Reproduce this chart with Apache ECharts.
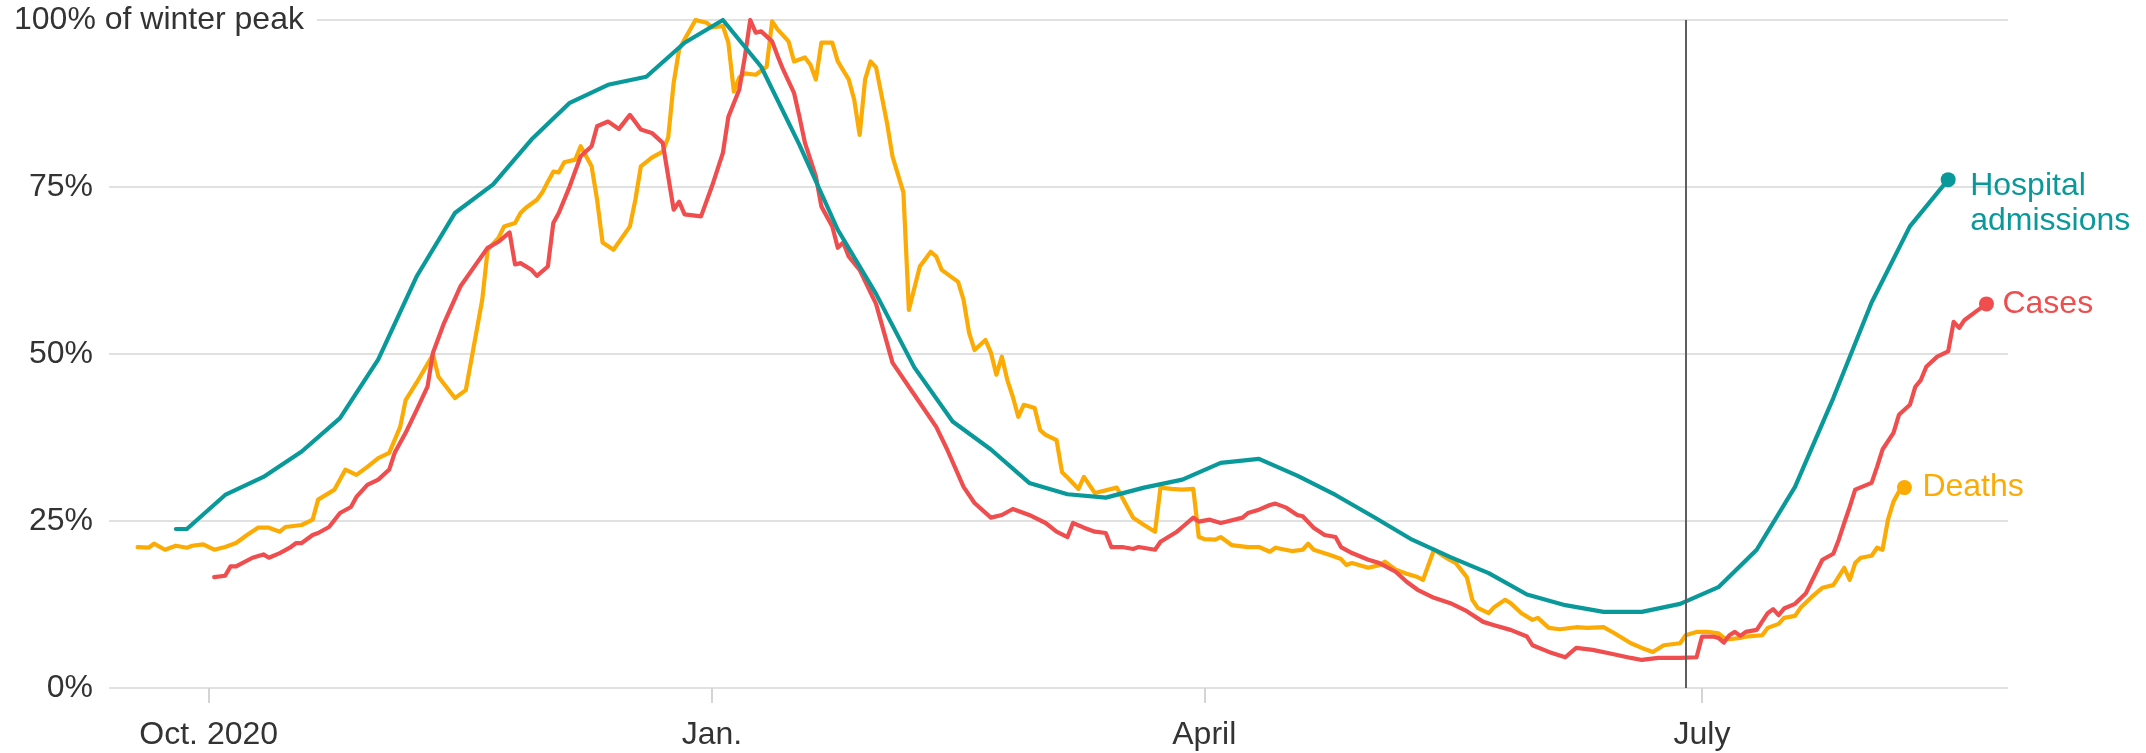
<!DOCTYPE html>
<html><head><meta charset="utf-8">
<script src="https://cdn.jsdelivr.net/npm/echarts@6/dist/echarts.min.js"></script>
<style>html,body{margin:0;padding:0;background:#fff}#chart{width:2146px;height:753px}</style>
</head><body><div id="chart"></div>
<script>
// ---- tick labels ----
const xTickDates = ['2020-10-01', '2021-01-01', '2021-04-01', '2021-07-01'];
const xTickLabels = ['Oct. 2020', 'Jan.', 'April', 'July'];
const yTickValues = [0, 25, 50, 75, 100];
const yTickLabels = ['0%', '25%', '50%', '75%', '100% of winter peak'];
const axisStart = '2020-09-12 18:30';
const axisEnd = '2021-08-25 22:30';
const markerDate = '2021-06-28';

// ---- series: % of winter peak ----
const hospital = [
['2020-09-25',23.8],['2020-09-27',23.8],['2020-10-04',28.9],['2020-10-11',31.6],['2020-10-18',35.4],
['2020-10-25',40.4],['2020-11-01',49.2],['2020-11-08',61.6],['2020-11-15',71.1],['2020-11-22',75.4],
['2020-11-29',82.1],['2020-12-06',87.6],['2020-12-13',90.3],['2020-12-20',91.5],['2020-12-27',96.6],
['2021-01-03',100],['2021-01-10',93.0],['2021-01-17',81.3],['2021-01-24',68.6],['2021-01-31',59.0],
['2021-02-07',48.0],['2021-02-14',39.9],['2021-02-21',35.7],['2021-02-28',30.7],['2021-03-07',29.0],
['2021-03-14',28.5],['2021-03-21',30.0],['2021-03-28',31.2],['2021-04-04',33.7],['2021-04-11',34.3],
['2021-04-18',31.8],['2021-04-25',28.9],['2021-05-02',25.6],['2021-05-09',22.2],['2021-05-16',19.6],
['2021-05-23',17.2],['2021-05-30',14.0],['2021-06-06',12.4],['2021-06-13',11.4],['2021-06-20',11.4],
['2021-06-27',12.6],['2021-07-04',15.1],['2021-07-11',20.7],['2021-07-18',30.1],['2021-07-25',43.4],
['2021-08-01',57.7],['2021-08-08',69.1],['2021-08-15',76.1]
];

const cases = [
['2020-10-02',16.6],['2020-10-04',16.8],['2020-10-05',18.2],['2020-10-06',18.2],['2020-10-09',19.5],
['2020-10-11',20.0],['2020-10-12',19.5],['2020-10-14',20.2],['2020-10-16',21.1],['2020-10-17',21.7],
['2020-10-18',21.7],['2020-10-20',22.9],['2020-10-21',23.2],['2020-10-23',24.1],['2020-10-25',26.2],
['2020-10-27',27.1],['2020-10-28',28.6],['2020-10-30',30.4],['2020-11-01',31.2],['2020-11-03',32.7],
['2020-11-04',35.2],['2020-11-06',38.2],['2020-11-08',41.6],['2020-11-10',45.1],['2020-11-11',50.2],
['2020-11-13',54.6],['2020-11-16',60.1],['2020-11-19',63.6],['2020-11-21',65.9],['2020-11-23',66.8],
['2020-11-25',68.2],['2020-11-26',63.4],['2020-11-27',63.6],['2020-11-29',62.6],['2020-11-30',61.7],
['2020-12-02',63.1],['2020-12-03',69.6],['2020-12-04',71.1],['2020-12-06',75.1],['2020-12-08',79.6],
['2020-12-10',81.1],['2020-12-11',84.1],['2020-12-13',84.8],['2020-12-15',83.7],['2020-12-17',85.8],
['2020-12-19',83.6],['2020-12-21',83.1],['2020-12-23',81.6],['2020-12-25',71.6],['2020-12-26',72.8],
['2020-12-27',70.9],['2020-12-30',70.6],['2021-01-01',75.1],['2021-01-03',80.1],['2021-01-04',85.5],
['2021-01-06',89.6],['2021-01-07',94.4],['2021-01-08',100],['2021-01-09',98.1],['2021-01-10',98.3],
['2021-01-12',96.8],['2021-01-13',94.6],['2021-01-14',92.6],['2021-01-16',89.1],['2021-01-17',85.5],
['2021-01-18',81.6],['2021-01-20',76.6],['2021-01-21',72.1],['2021-01-23',69.1],['2021-01-24',65.9],
['2021-01-25',66.7],['2021-01-26',64.6],['2021-01-28',62.6],['2021-01-30',59.2],['2021-01-31',57.5],
['2021-02-03',48.7],['2021-02-06',45.1],['2021-02-08',42.7],['2021-02-11',39.1],['2021-02-13',35.7],
['2021-02-16',30.1],['2021-02-18',27.7],['2021-02-21',25.5],['2021-02-23',25.9],['2021-02-25',26.8],
['2021-02-28',25.9],['2021-03-03',24.7],['2021-03-05',23.4],['2021-03-07',22.6],['2021-03-08',24.7],
['2021-03-10',24.0],['2021-03-12',23.4],['2021-03-14',23.2],['2021-03-15',21.1],['2021-03-17',21.1],
['2021-03-19',20.8],['2021-03-20',21.1],['2021-03-23',20.7],['2021-03-24',21.9],['2021-03-27',23.4],
['2021-03-28',24.1],['2021-03-30',25.5],['2021-03-31',24.9],['2021-04-02',25.2],['2021-04-04',24.7],
['2021-04-05',24.9],['2021-04-08',25.5],['2021-04-09',26.2],['2021-04-11',26.7],['2021-04-13',27.4],
['2021-04-14',27.6],['2021-04-16',27.0],['2021-04-18',25.9],['2021-04-19',25.7],['2021-04-21',24.0],
['2021-04-23',22.9],['2021-04-25',22.6],['2021-04-26',21.1],['2021-04-28',20.2],['2021-05-01',19.2],
['2021-05-03',18.7],['2021-05-06',17.4],['2021-05-08',15.9],['2021-05-10',14.7],['2021-05-13',13.5],
['2021-05-16',12.7],['2021-05-19',11.5],['2021-05-22',9.9],['2021-05-24',9.4],['2021-05-27',8.7],
['2021-05-30',7.7],['2021-05-31',6.4],['2021-06-03',5.4],['2021-06-06',4.6],['2021-06-08',6.0],
['2021-06-11',5.7],['2021-06-14',5.2],['2021-06-18',4.5],['2021-06-20',4.2],['2021-06-23',4.5],
['2021-06-27',4.5],['2021-06-30',4.6],['2021-07-01',7.7],['2021-07-03',7.7],['2021-07-04',7.5],
['2021-07-05',6.8],['2021-07-06',7.9],['2021-07-07',8.4],['2021-07-08',7.8],['2021-07-09',8.4],
['2021-07-11',8.7],['2021-07-13',11.2],['2021-07-14',11.8],['2021-07-15',10.9],['2021-07-16',11.9],
['2021-07-18',12.6],['2021-07-20',14.2],['2021-07-21',15.9],['2021-07-23',19.2],['2021-07-25',20.1],
['2021-07-26',22.2],['2021-07-27',24.7],['2021-07-28',27.1],['2021-07-29',29.7],['2021-08-01',30.7],
['2021-08-02',33.1],['2021-08-03',35.7],['2021-08-05',38.2],['2021-08-06',40.9],['2021-08-08',42.4],
['2021-08-09',45.1],['2021-08-10',46.1],['2021-08-11',48.1],['2021-08-13',49.6],['2021-08-15',50.4],
['2021-08-16',54.8],['2021-08-17',53.9],['2021-08-18',55.1],['2021-08-20',56.3],['2021-08-22',57.5]
];

const deaths = [
['2020-09-18',21.1],['2020-09-20',21.0],['2020-09-21',21.6],['2020-09-23',20.7],['2020-09-25',21.3],
['2020-09-27',21.0],['2020-09-28',21.3],['2020-09-30',21.5],['2020-10-02',20.7],['2020-10-04',21.1],
['2020-10-06',21.7],['2020-10-08',22.9],['2020-10-10',24.0],['2020-10-12',24.0],['2020-10-14',23.4],
['2020-10-15',24.1],['2020-10-18',24.4],['2020-10-20',25.2],['2020-10-21',28.2],['2020-10-24',29.7],
['2020-10-26',32.7],['2020-10-28',31.9],['2020-10-30',33.1],['2020-11-01',34.4],['2020-11-03',35.2],
['2020-11-05',39.1],['2020-11-06',43.1],['2020-11-08',45.7],['2020-11-11',49.9],['2020-11-12',46.6],
['2020-11-15',43.4],['2020-11-17',44.6],['2020-11-18',49.1],['2020-11-20',58.1],['2020-11-21',65.6],
['2020-11-23',67.4],['2020-11-24',69.1],['2020-11-26',69.6],['2020-11-27',71.1],['2020-11-28',71.9],
['2020-11-30',73.1],['2020-12-01',74.2],['2020-12-02',75.8],['2020-12-03',77.3],['2020-12-04',77.2],
['2020-12-05',78.7],['2020-12-07',79.1],['2020-12-08',81.1],['2020-12-10',78.1],['2020-12-11',73.1],
['2020-12-12',66.7],['2020-12-14',65.6],['2020-12-17',69.1],['2020-12-18',73.1],['2020-12-19',78.1],
['2020-12-21',79.4],['2020-12-23',80.3],['2020-12-24',82.4],['2020-12-25',90.6],['2020-12-26',95.6],
['2020-12-27',97.1],['2020-12-29',100],['2020-12-31',99.6],['2021-01-01',98.9],['2021-01-03',99.1],
['2021-01-04',96.6],['2021-01-05',89.3],['2021-01-06',91.4],['2021-01-07',92.0],['2021-01-09',91.8],
['2021-01-11',93.0],['2021-01-12',99.8],['2021-01-13',98.6],['2021-01-15',96.8],['2021-01-16',93.8],
['2021-01-18',94.4],['2021-01-19',93.3],['2021-01-20',91.1],['2021-01-21',96.6],['2021-01-23',96.6],
['2021-01-24',93.8],['2021-01-26',91.1],['2021-01-27',88.1],['2021-01-28',82.8],['2021-01-29',91.1],
['2021-01-30',93.8],['2021-01-31',92.9],['2021-02-02',84.6],['2021-02-03',79.6],['2021-02-05',74.2],
['2021-02-06',56.6],['2021-02-08',63.1],['2021-02-10',65.3],['2021-02-11',64.6],['2021-02-12',62.6],
['2021-02-14',61.4],['2021-02-15',60.8],['2021-02-16',58.1],['2021-02-17',53.2],['2021-02-18',50.6],
['2021-02-20',52.1],['2021-02-21',50.2],['2021-02-22',46.9],['2021-02-23',49.6],['2021-02-24',46.1],
['2021-02-25',43.6],['2021-02-26',40.6],['2021-02-27',42.4],['2021-03-01',41.9],['2021-03-02',38.6],
['2021-03-03',37.9],['2021-03-05',37.1],['2021-03-06',32.3],['2021-03-07',31.5],['2021-03-09',29.8],
['2021-03-10',31.6],['2021-03-12',29.2],['2021-03-16',30.0],['2021-03-19',25.5],['2021-03-21',24.4],
['2021-03-23',23.4],['2021-03-24',30.0],['2021-03-26',29.8],['2021-03-28',29.7],['2021-03-30',29.8],
['2021-03-31',22.6],['2021-04-01',22.3],['2021-04-03',22.2],['2021-04-04',22.6],['2021-04-06',21.4],
['2021-04-09',21.1],['2021-04-11',21.1],['2021-04-13',20.4],['2021-04-14',21.0],['2021-04-17',20.5],
['2021-04-19',20.7],['2021-04-20',21.6],['2021-04-21',20.7],['2021-04-24',19.9],['2021-04-26',19.3],
['2021-04-27',18.4],['2021-04-28',18.7],['2021-05-01',18.0],['2021-05-03',18.4],['2021-05-04',18.9],
['2021-05-06',17.7],['2021-05-08',17.1],['2021-05-10',16.6],['2021-05-11',16.2],['2021-05-13',20.7],
['2021-05-15',19.6],['2021-05-17',18.7],['2021-05-19',16.6],['2021-05-20',13.2],['2021-05-21',12.0],
['2021-05-23',11.2],['2021-05-24',12.1],['2021-05-26',13.2],['2021-05-27',12.7],['2021-05-29',11.2],
['2021-05-31',10.2],['2021-06-01',10.5],['2021-06-03',9.0],['2021-06-05',8.8],['2021-06-08',9.1],
['2021-06-10',9.0],['2021-06-13',9.1],['2021-06-15',8.2],['2021-06-18',6.7],['2021-06-20',6.0],
['2021-06-22',5.4],['2021-06-24',6.4],['2021-06-27',6.7],['2021-06-28',7.9],['2021-06-30',8.4],
['2021-07-02',8.4],['2021-07-04',8.2],['2021-07-05',7.5],['2021-07-06',7.3],['2021-07-08',7.5],
['2021-07-09',7.7],['2021-07-12',7.9],['2021-07-13',9.0],['2021-07-15',9.6],['2021-07-16',10.5],
['2021-07-18',10.8],['2021-07-19',12.0],['2021-07-21',13.6],['2021-07-23',15.0],['2021-07-25',15.4],
['2021-07-27',18.0],['2021-07-28',16.2],['2021-07-29',18.7],['2021-07-30',19.5],['2021-08-01',19.8],
['2021-08-02',21.0],['2021-08-03',20.7],['2021-08-04',25.2],['2021-08-05',27.9],['2021-08-06',29.4],
['2021-08-07',30.0]
];

const seriesNames = ['Deaths', 'Cases', 'Hospital\nadmissions'];
const seriesColors = ['#fcab04', '#ef4d4e', '#0a999a'];

// ---- build ----
function ts(s) {
  const [datePart, timePart] = s.split(' ');
  const [y, m, d] = datePart.split('-').map(Number);
  let h = 0, mi = 0;
  if (timePart) { [h, mi] = timePart.split(':').map(Number); }
  return new Date(y, m - 1, d, h, mi).getTime();
}
const FONT = '"Liberation Sans", Arial, sans-serif';
const FS = 32;
const xTickTs = xTickDates.map(ts);

function makeSeries(name, color, rows, labelOpts) {
  const data = rows.map(r => [ts(r[0]), r[1]]);
  const last = data.length - 1;
  return {
    name: name, type: 'line', data: data,
    symbol: 'circle',
    symbolSize: (v, p) => (p.dataIndex === last ? 15 : 0),
    showSymbol: true,
    lineStyle: { color: color, width: 4.2, join: 'round', cap: 'round' },
    itemStyle: { color: color },
    emphasis: { disabled: true },
    silent: true,
    animation: false,
    endLabel: Object.assign({
      show: true, formatter: name, color: color,
      fontSize: FS, fontFamily: FONT, lineHeight: 35
    }, labelOpts)
  };
}

const chart = echarts.init(document.getElementById('chart'), null, { renderer: 'canvas' });
const deathsSeries = makeSeries(seriesNames[0], seriesColors[0], deaths, { distance: 18 });
const casesSeries = makeSeries(seriesNames[1], seriesColors[1], cases, { distance: 16 });
const hospSeries = makeSeries(seriesNames[2], seriesColors[2], hospital, { distance: 22, offset: [0, 24] });
hospSeries.markLine = {
  silent: true, symbol: ['none', 'none'], label: { show: false },
  lineStyle: { color: '#5e5e5e', width: 2, type: 'solid' },
  data: [{ xAxis: ts(markerDate) }],
  animation: false
};

chart.setOption({
  backgroundColor: '#ffffff',
  animation: false,
  grid: { left: 109, right: 138, top: 20, bottom: 65, containLabel: false },
  xAxis: {
    type: 'value',
    min: ts(axisStart), max: ts(axisEnd),
    axisLine: { show: false },
    splitLine: { show: false },
    axisTick: { show: true, customValues: xTickTs, length: 15, lineStyle: { color: '#d4d4d4', width: 2 } },
    axisLabel: {
      customValues: xTickTs,
      margin: 31, fontSize: FS, fontFamily: FONT, color: '#333',
      formatter: function (v) {
        const i = xTickTs.findIndex(t => Math.abs(t - v) < 43200000);
        return i >= 0 ? xTickLabels[i] : '';
      }
    }
  },
  yAxis: {
    type: 'value', min: 0, max: 100, interval: 25,
    axisLine: { show: false }, axisTick: { show: false },
    splitLine: { show: true, lineStyle: { color: '#e1e1e1', width: 2 } },
    axisLabel: {
      align: 'left', margin: 95,
      formatter: function (v) {
        const i = yTickValues.indexOf(v);
        if (i < 0) return '';
        return v === 100 ? '{top|' + yTickLabels[i] + '}' : '{n|' + yTickLabels[i] + '}';
      },
      rich: {
        n: { width: 79, align: 'right', fontSize: FS, fontFamily: FONT, color: '#333' },
        top: { fontSize: FS, fontFamily: FONT, color: '#333', backgroundColor: '#ffffff', padding: [3, 13, 3, 0] }
      }
    }
  },
  series: [deathsSeries, casesSeries, hospSeries]
});
</script>
</body></html>
